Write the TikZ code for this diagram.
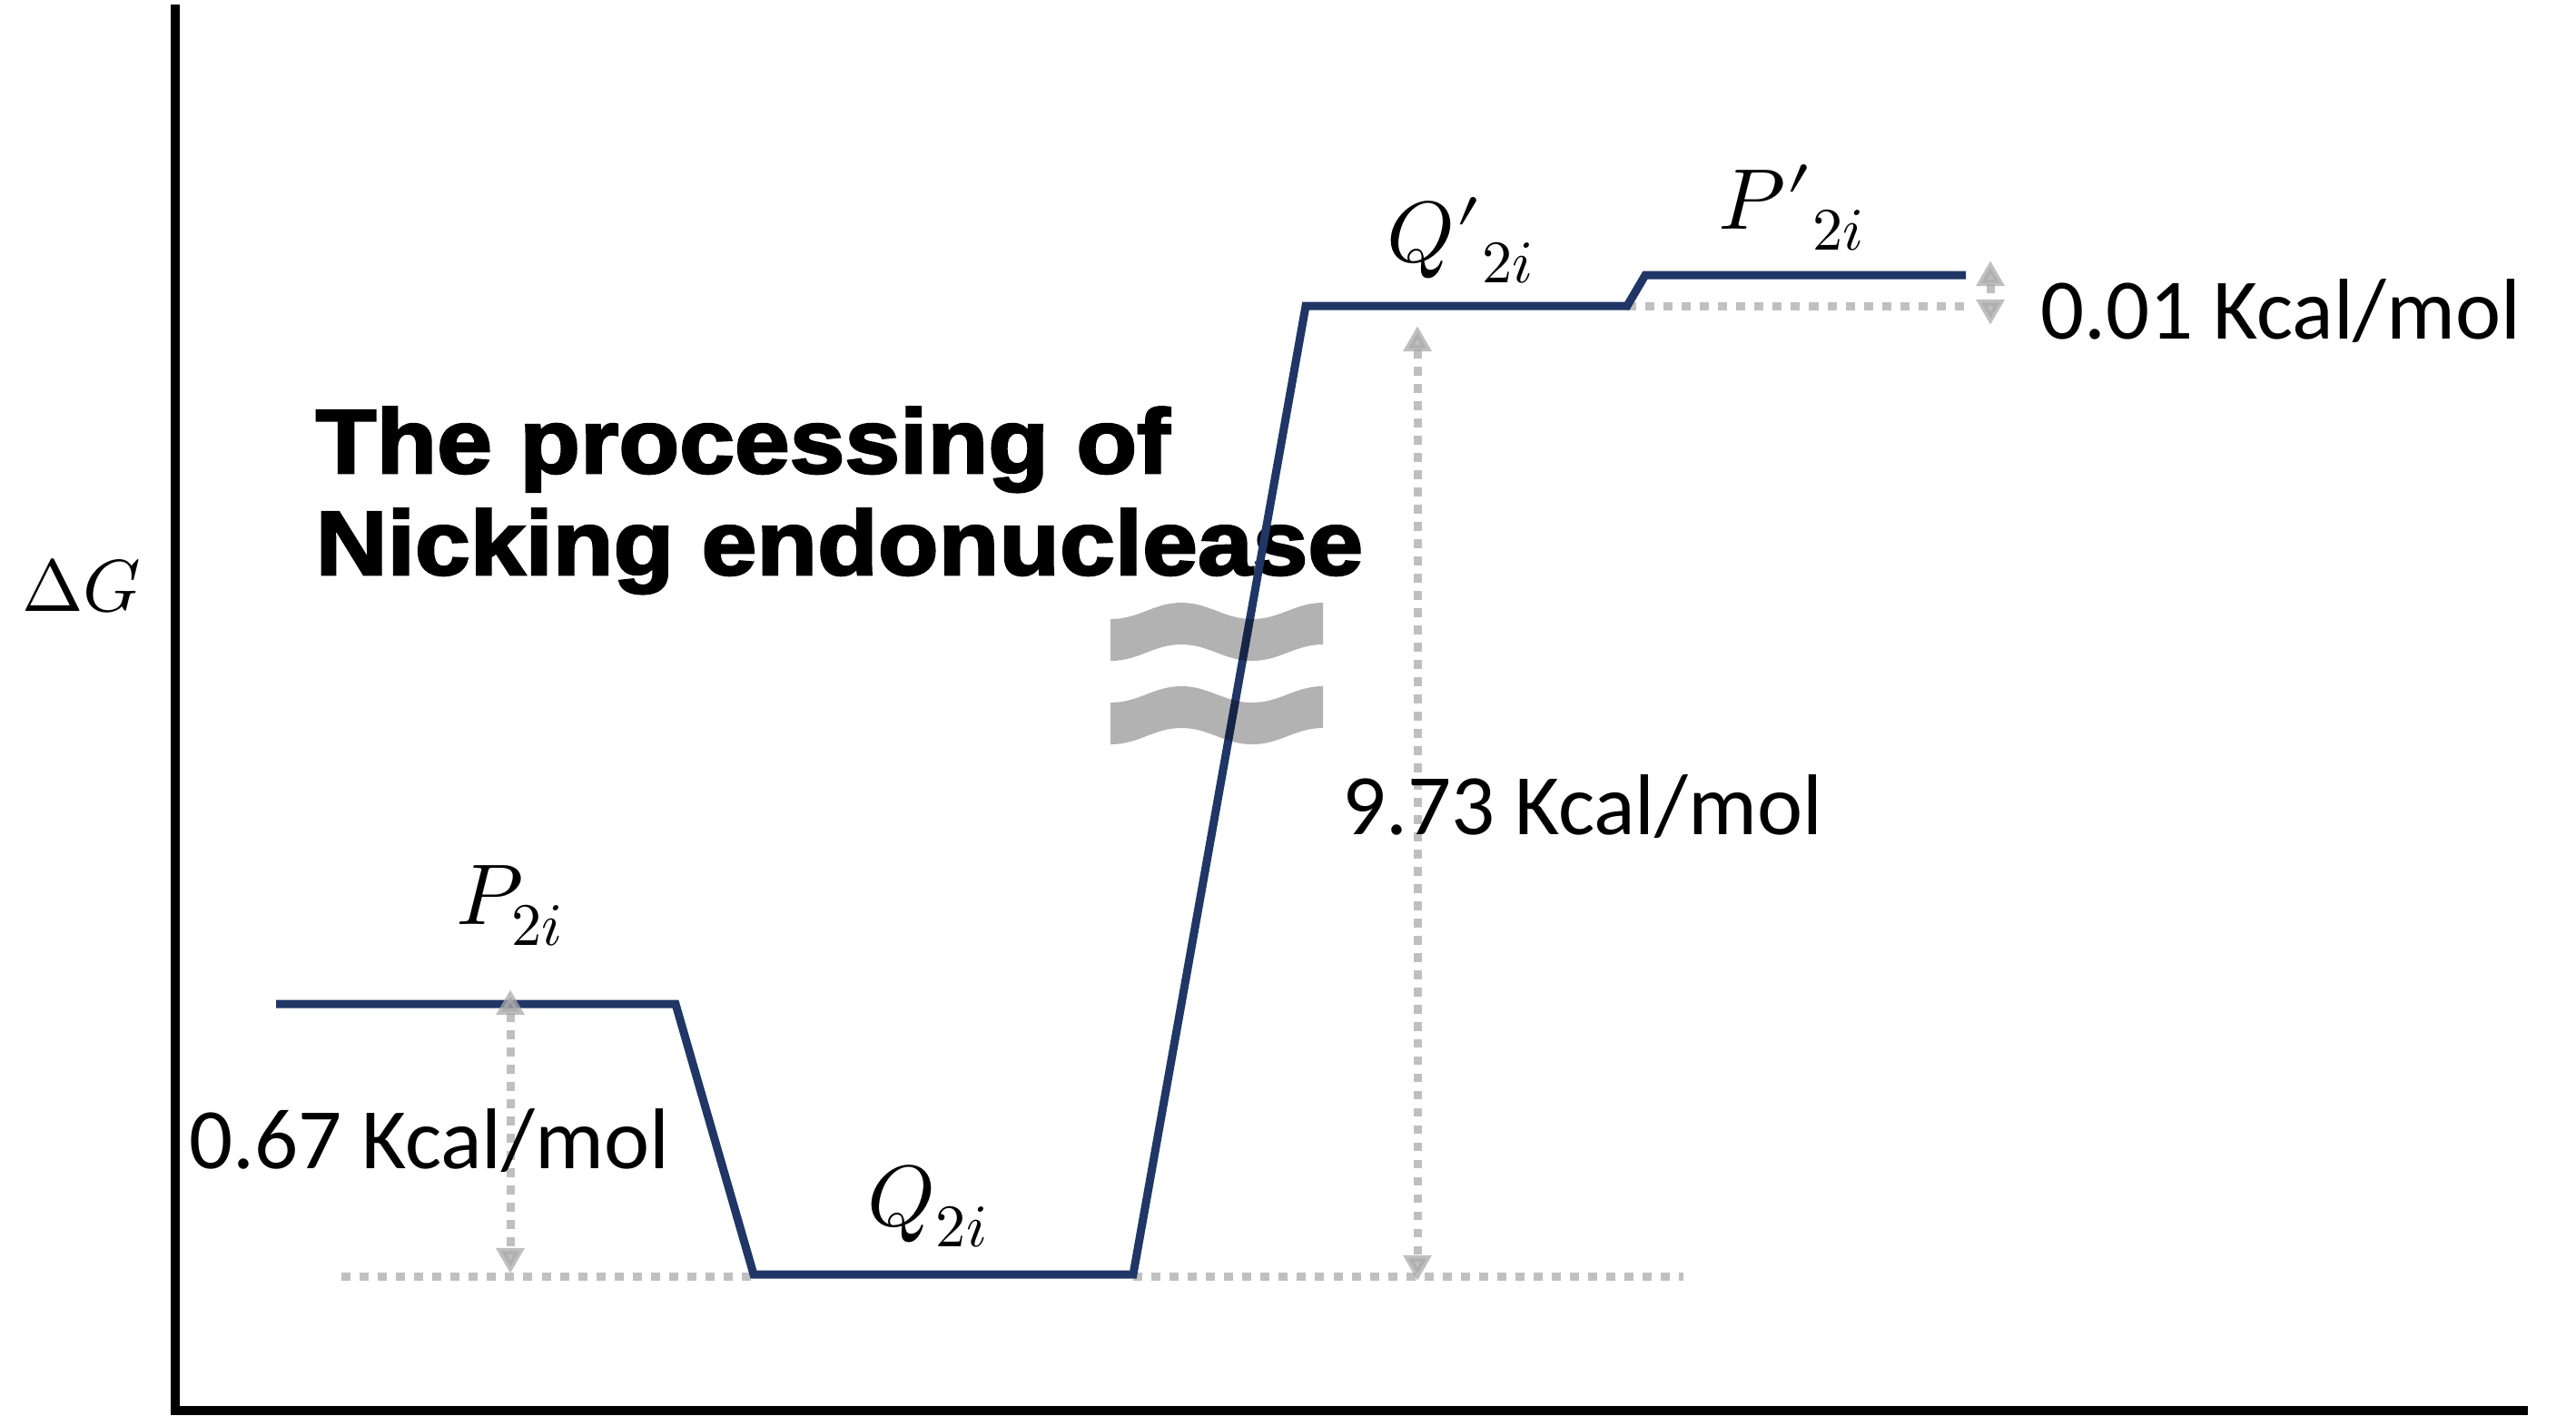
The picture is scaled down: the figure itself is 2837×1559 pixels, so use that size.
\documentclass[tikz,border=0pt]{standalone}
\usepackage{fontspec}
\usepackage{unicode-math}
\setmainfont{Carlito}
\setmathfont{Latin Modern Math}
\newfontfamily\titlefont{Liberation Sans}[FakeStretch=1.09,BoldFeatures={FakeBold=2.6}]
\usetikzlibrary{arrows.meta}
\definecolor{navy}{RGB}{32,54,102}
\definecolor{lgray}{RGB}{192,192,192}
\definecolor{agray}{RGB}{170,170,170}
\begin{document}
\begin{tikzpicture}[x=0.01cm,y=-0.01cm,
  level/.style={draw=navy, line width=2.56pt, line join=miter},
  axisline/.style={draw=black, line width=2.85pt, line join=miter},
  guide/.style={draw=lgray, line width=2.56pt, dash pattern=on 2.85pt off 2.85pt},
  gap/.style={draw=agray, draw opacity=0.75, fill opacity=0.75, line width=2.56pt, dash pattern=on 2.7pt off 2.7pt,
     {Triangle[width=8.5pt,length=8pt]}-{Triangle[width=8.5pt,length=8pt]}},
  mlabel/.style={anchor=base west, inner sep=0pt, font=\fontsize{27}{32}\selectfont},
  vlabel/.style={anchor=base west, inner sep=0pt, font=\fontsize{27}{32}\selectfont},
  titletext/.style={anchor=base west, inner sep=0pt, font=\titlefont\bfseries\fontsize{28.5}{32}\selectfont},
  breakband/.style={fill=black, fill opacity=0.3}]
\useasboundingbox (0,0) rectangle (2837,1559);

% axes
\coordinate (ytop) at (193,5);
\coordinate (origin) at (193,1554);
\coordinate (xend) at (2784,1554);
\draw[axisline] (ytop) -- (origin) -- (xend);
\node[font=\fontsize{23}{28}\selectfont] (dG) at (90,645) {$\Delta G$};

% title
\node[titletext] (title1) at (347,521) {The processing of};
\node[titletext] (title2) at (347,633) {Nicking endonuclease};

% level points
\coordinate (p1a) at (304,1106);
\coordinate (p1b) at (744,1106);
\coordinate (q1a) at (830,1404);
\coordinate (q1b) at (1248,1404);
\coordinate (q2a) at (1438,337);
\coordinate (q2b) at (1792,337);
\coordinate (p2a) at (1812,303);
\coordinate (p2b) at (2165,303);

% guide (dotted) lines
\coordinate (g1a) at (376,1406);
\coordinate (g1b) at (830,1406);
\coordinate (g2a) at (1248,1406);
\coordinate (g2b) at (1854,1406);
\coordinate (g3a) at (1792,337);
\coordinate (g3b) at (2165,337);
\draw[guide] (g1a) -- (g1b);
\draw[guide] (g2a) -- (g2b);
\draw[guide] (g3a) -- (g3b);

% energy profile
\draw[level] (p1a) -- (p1b) -- (q1a) -- (q1b) -- (q2a) -- (q2b) -- (p2a) -- (p2b);

% gap arrows
\coordinate (a1t) at (562,1090);
\coordinate (a1b) at (562,1403);
\coordinate (a2t) at (1561,359);
\coordinate (a2b) at (1561,1411);
\coordinate (a3t) at (2192,287);
\coordinate (a3b) at (2192,358);
\draw[gap] (a1t) -- (a1b);
\draw[gap] (a2t) -- (a2b);
\draw[gap] (a3t) -- (a3b);

% break symbol
\foreach \dy in {0,92}{
  \fill[breakband] (1223,682+\dy) .. controls (1255,682+\dy) and (1270,664+\dy) .. (1301,664+\dy)
    .. controls (1332,664+\dy) and (1348,682+\dy) .. (1379,682+\dy)
    .. controls (1410,682+\dy) and (1426,664+\dy) .. (1457,664+\dy)
    -- (1457,710+\dy)
    .. controls (1426,710+\dy) and (1410,728+\dy) .. (1379,728+\dy)
    .. controls (1348,728+\dy) and (1332,710+\dy) .. (1301,710+\dy)
    .. controls (1270,710+\dy) and (1255,728+\dy) .. (1223,728+\dy) -- cycle;
}

% state labels
\node[mlabel] (lP) at (502,1018) {$P_{2i}$};
\node[mlabel] (lQ) at (955,1350) {$Q_{2i}$};
\node[mlabel] (lQp) at (1527,288) {$Q{\prime}_{2i}$};
\node[mlabel] (lPp) at (1892,252) {$P{\prime}_{2i}$};

% value labels
\node[vlabel] (v1) at (208,1287) {0.67 Kcal/mol};
\node[vlabel] (v2) at (1478,919) {9.73 Kcal/mol};
\node[vlabel] (v3) at (2247,373) {0.01 Kcal/mol};
\end{tikzpicture}
\end{document}
